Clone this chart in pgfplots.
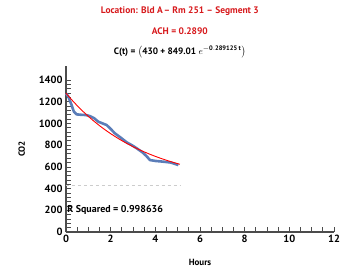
\documentclass[border=0pt]{standalone}
\usepackage{pgfplots}
\pgfplotsset{compat=1.18}
\usepackage{fontspec}
\setmainfont{PT Sans}
\definecolor{titlered}{HTML}{D7191C}
\definecolor{databl}{HTML}{5B7DB8}
\begin{document}
\begin{tikzpicture}
\useasboundingbox (-66bp,-37bp) rectangle (278bp,232bp);
\begin{axis}[
  scale only axis, width=268bp, height=166bp,
  xmin=0, xmax=12, ymin=0, ymax=1530,
  axis lines=left, axis line style={-, gray!60!black, line width=1.2pt},
  xtick={0,2,...,12}, ytick={0,200,...,1400},
  minor x tick num=3, minor y tick num=4,
  tick align=inside, major tick length=5bp, minor tick length=5bp,
  tick style={gray!60!black, line width=0.8pt},
  ticklabel style={font=\fontsize{10.5}{12}\selectfont\bfseries},
  /pgf/number format/assume math mode=true,
  /pgf/number format/1000 sep={},
  xlabel={\bfseries Hours}, ylabel={\bfseries CO2},
  label style={font=\fontsize{9}{11}\selectfont},
  xlabel style={yshift=-9bp},
  ylabel style={yshift=7bp},
  clip=false,
]
\addplot[gray!40, dashed, line width=0.6pt] coordinates {(0,430) (5.1,430)};
\addplot[databl, line width=2.6pt, line join=round] coordinates {
(0,1277) (0.1,1250) (0.25,1170) (0.35,1110) (0.48,1084) (0.7,1080) (0.9,1078) (1.07,1068)
(1.25,1050) (1.45,1016) (1.65,1000) (1.82,986) (2.0,950) (2.19,909) (2.45,870) (2.72,826)
(2.95,800) (3.17,771) (3.45,730) (3.6,700) (3.76,663) (4.0,655) (4.36,648) (4.7,640) (5.03,617)};
\addplot[red, line width=0.9pt] coordinates {
(0,1279.0) (0.25,1219.8) (0.5,1164.7) (0.75,1113.5) (1,1065.8) (1.25,1021.5) (1.5,980.2)
(1.75,941.9) (2,906.2) (2.25,873.0) (2.5,842.1) (2.75,813.3) (3,786.6) (3.25,761.7)
(3.5,738.6) (3.75,717.1) (4,697.1) (4.25,678.4) (4.5,661.1) (4.75,645.0) (5,630.0) (5.1,624.3)};
\node[anchor=west, font=\fontsize{10}{12}\selectfont\bfseries, inner sep=0pt] at (axis cs:0.05,200) {R Squared = 0.998636};
\node[font=\fontsize{9.5}{11}\selectfont\bfseries, text=titlered] at (rel axis cs:0.425,1.331) {Location: Bld A\kern1pt– Rm 251 – Segment 3};
\node[font=\fontsize{9.5}{11}\selectfont\bfseries, text=titlered] at (rel axis cs:0.425,1.211) {ACH = 0.2890};
\node[font=\fontsize{9.3}{11}\selectfont\bfseries] at (rel axis cs:0.425,1.084) {C(t) = $\bigl($430 + 849.01 $e^{\mathbf{-0.289125\,t}}\bigr)$};
\end{axis}
\end{tikzpicture}
\end{document}
